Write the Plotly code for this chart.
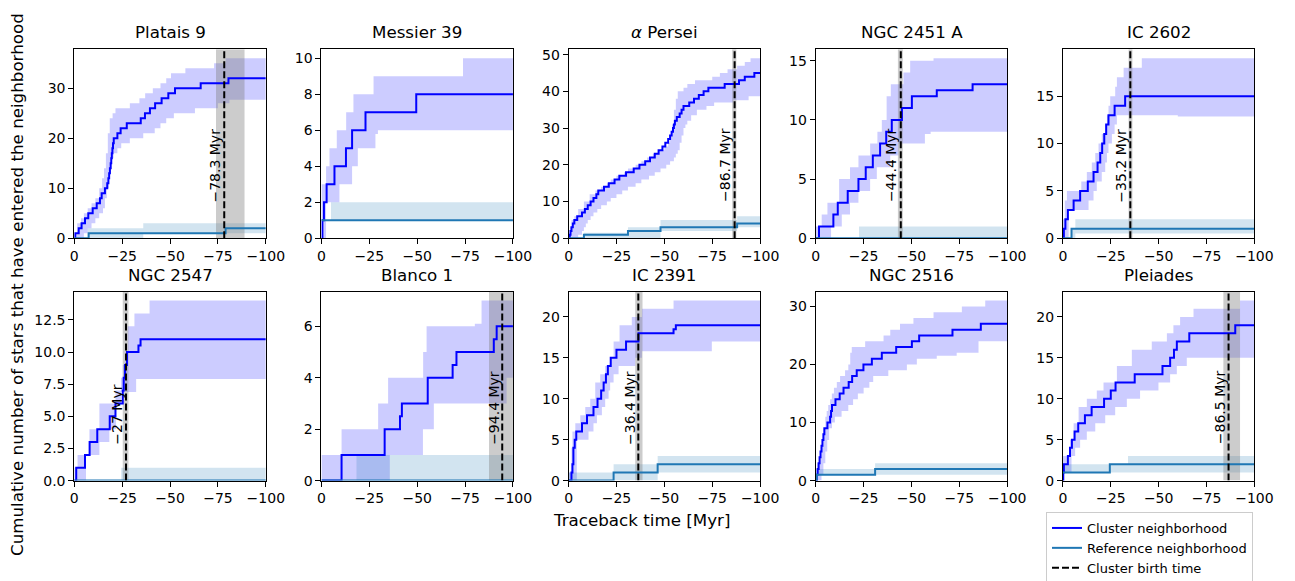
import plotly.graph_objects as go

# ---------------- data (traceback time in Myr as positive magnitude, value = count after step) ----------------
NAMES = ["Platais 9", "Messier 39", "<i>α</i> Persei", "NGC 2451 A", "IC 2602",
         "NGC 2547", "Blanco 1", "IC 2391", "NGC 2516", "Pleiades"]

P9_LINE = [(0, 0), (0.5, 1), (2.3, 2), (3.8, 3), (5.6, 4), (7.3, 5), (9.6, 6), (11.7, 7), (13.4, 8), (14.3, 9),
           (16, 10), (17.2, 11), (17.8, 12), (18.2, 13), (18.6, 14), (19, 15), (19.3, 16), (19.6, 17), (19.9, 18),
           (20.2, 19), (20.6, 20), (22.5, 21), (24.2, 22), (27.4, 23), (34.7, 24), (36.9, 25), (39.5, 26),
           (42.2, 27), (45.6, 28), (49.1, 29), (52.6, 30), (66, 31), (80.5, 32)]
P9_UP = [(0, 1), (1.5, 3), (3.5, 4), (5, 5), (7, 6), (9, 7), (11, 8), (13, 10), (14.5, 12), (15.5, 14), (16.5, 17),
         (17.5, 21), (18.5, 24), (20, 25), (21.5, 26), (29, 27), (34, 28), (37, 29), (41, 30), (45, 31), (48, 32),
         (50.5, 33), (58, 34), (73, 35), (79, 36)]
P9_LO = [(0, 0), (5, 1), (7, 2), (9, 3), (11, 4), (13, 5), (15, 6), (16, 8), (17, 10), (18, 13), (19, 16),
         (20.5, 17), (22.5, 18), (24.5, 19), (29, 20), (36, 21), (42, 22), (45, 23), (48, 24), (52, 25), (63, 26),
         (75, 27), (81, 27.7)]
P9_REF = [(0, 0), (7.5, 1), (79, 2)]
P9_REF_UP = [(0, 0), (7, 2), (36, 3)]
P9_REF_LO = [(0, 0), (36, 1)]

M39_LINE = [(0, 0), (0.5, 1), (1.3, 2), (2.7, 3), (6.8, 4), (12.8, 5), (16, 6), (23, 7), (49.5, 8)]
M39_UP = [(0, 3), (2.4, 4), (4.2, 5), (8, 6), (12.9, 7), (16.7, 8), (27.2, 9), (73.9, 10)]
M39_LO = [(0, 0), (2.4, 2), (9.4, 3), (16, 4), (19, 5), (28.2, 5.8), (29.5, 6)]
M39_REF = [(0, 1)]
M39_REF_UP = [(0, 1), (5, 2)]
M39_REF_LO = [(0, 1)]

AP_LINE = [(0, 0), (0.6, 1), (1.0, 2), (1.5, 3), (2.2, 4), (3.0, 5), (4.5, 6), (7.0, 7), (8.5, 8), (10.0, 9),
           (11.5, 10), (13.0, 11), (14.5, 12), (15.5, 13), (18.5, 14), (21.0, 15), (24.0, 16), (26.5, 17),
           (30.0, 18), (34.0, 19), (37.0, 20), (40.0, 21), (42.5, 22), (45.0, 23), (47.0, 24), (49.0, 25),
           (50.5, 26), (52.0, 27), (53.0, 28), (53.8, 29), (54.5, 30), (55.0, 31), (55.5, 32), (56.5, 33),
           (58.0, 34), (59.0, 35), (60.0, 36), (63.0, 37), (65.5, 38), (68.0, 39), (70.5, 40), (73.0, 41),
           (81.5, 42), (89.0, 43), (92.0, 44), (97.0, 45)]
AP_UP = [(0, 1), (0.8, 3), (1.5, 5), (3, 6), (5, 8), (8, 10), (11, 12), (14, 13), (17, 14), (20, 15), (22, 16),
         (25, 17), (29, 18), (31, 19), (35, 20), (38, 21), (41, 22), (44, 23), (47, 24), (50, 25), (52, 26),
         (53, 28), (54, 31), (55, 35), (56, 38), (57, 40), (60, 41), (62, 42), (66, 43), (75, 44), (79, 45),
         (83, 46), (88, 47), (92, 48), (95, 49)]
AP_LO = [(0, 0), (5, 1), (7, 2), (8, 3), (9, 4), (10, 5), (11.5, 6), (13, 7), (15, 8), (17, 9), (20, 10),
         (22, 11), (25, 12), (28, 13), (31, 14), (35, 15), (38, 16), (42, 17), (45, 18), (48, 19), (51, 20),
         (53, 21), (55, 22), (56, 23), (57, 24), (58, 26), (59, 28), (60, 30), (61, 31), (62, 32), (64, 33.5),
         (67, 35), (72, 36), (76, 37), (86, 37.6), (94, 38.7)]
AP_REF = [(0, 0), (8, 1), (31, 2), (48, 3), (88, 4)]
AP_REF_UP = [(0, 0), (8, 1.5), (31, 3), (48, 5), (88, 6)]
AP_REF_LO = [(0, 0), (48, 2), (88, 3)]

N2451_LINE = [(0, 0), (1.7, 1), (9.2, 2), (11.5, 3), (16.7, 4), (22.3, 5), (26.1, 6), (29.8, 7), (33.6, 8),
              (36.8, 9), (39.7, 10), (45, 11), (50.2, 12), (63.2, 12.5), (81.9, 13)]
N2451_UP = [(0, 1), (3.1, 2), (6.1, 3), (12.2, 5), (17.9, 6), (22.3, 7), (28.4, 8), (32.2, 9), (34.5, 10),
            (37, 12), (39.2, 13), (45.8, 14), (49.3, 15), (61.5, 15.2)]
N2451_LO = [(0, 0), (8, 1), (13.6, 2), (17.9, 3), (22.3, 4), (28.4, 5), (31.9, 6), (38.9, 7), (43.2, 8),
            (57, 8.8), (60, 9)]
N2451_REF = [(0, 0)]
N2451_REF_UP = [(0, 0), (22.6, 1)]
N2451_REF_LO = [(0, 0)]

I2602_LINE = [(0, 0), (0.5, 1), (1.3, 2), (2.6, 3), (5.6, 4), (9, 5), (13, 6), (16, 7), (18.1, 8), (19.5, 9),
              (20.5, 10), (21.6, 11), (22.6, 12), (23.8, 13), (27, 14), (32.5, 15)]
I2602_UP = [(0, 2), (1, 4), (2.1, 5), (9.6, 6), (12.5, 7), (15.1, 8), (16.9, 9), (18.6, 10), (20.3, 11),
            (22.1, 12), (23, 13), (23.8, 14), (24.7, 15), (27.3, 16), (28.2, 17), (31.7, 18), (41.2, 19)]
I2602_LO = [(0, 0), (3, 3), (13.4, 4), (16, 5), (17.7, 6), (20.3, 7), (22.1, 8), (23, 9), (23.8, 10),
            (25.6, 11), (27, 12), (28.2, 13), (60, 12.85)]
I2602_REF = [(0, 0), (4.5, 1)]
I2602_REF_UP = [(0, 0), (4.5, 1), (6.5, 2)]
I2602_REF_LO = [(0, 0), (6.5, 0.5)]

N2547_LINE = [(0, 0), (1, 1), (5.6, 2), (8, 3), (12, 4), (18.5, 5), (21.5, 6), (25.3, 7), (25.8, 8), (26.5, 9),
              (27.5, 10), (33.5, 10.5), (34.6, 11)]
N2547_UP = [(0, 1), (1.7, 2), (7.9, 4), (13.1, 6), (21.5, 7), (24.4, 8), (25.3, 9), (27.9, 12), (31.4, 13),
            (39.3, 14)]
N2547_LO = [(0, 0), (6.1, 2), (13.1, 3), (18.3, 4), (21.8, 6), (24.4, 6.9), (32.3, 7.9)]
N2547_REF = [(0, 0)]
N2547_REF_UP = [(0, 0), (24.5, 1)]
N2547_REF_LO = [(0, 0)]

B1_LINE = [(0, 0), (10.5, 1), (33, 2), (41, 2.5), (42, 3), (55.5, 4), (68.5, 4.5), (70.5, 5), (90, 5.5),
           (91.5, 6)]
B1_UP = [(0, 1), (10.5, 2), (29.6, 3), (34.8, 4), (53.1, 5), (54.9, 6), (80.1, 6.1), (83.6, 7)]
B1_LO = [(0, 0), (35.7, 1), (53, 2), (58.7, 3), (96.7, 4)]
B1_REF = [(0, 0)]
B1_REF_UP = [(0, 0), (18.3, 1)]
B1_REF_LO = [(0, 0)]

I2391_LINE = [(0, 0), (1.5, 1), (2, 2), (2.5, 4), (3.2, 5), (4, 6), (7, 7), (9.6, 8), (13, 9), (15.1, 10),
              (17, 11), (18.3, 12), (19.5, 13), (20.5, 14), (22, 15), (25, 16), (30, 17), (36.5, 18),
              (54.8, 18.5), (56, 19)]
I2391_UP = [(0, 1), (1.5, 4), (2, 6), (3.5, 7), (6.1, 8), (8.7, 9), (11.3, 10), (13.9, 12), (16.5, 13),
            (19.1, 14), (21.7, 15), (23.5, 17), (26.6, 19), (33, 20), (38.3, 21), (54.8, 22)]
I2391_LO = [(0, 0), (4.3, 5), (10.4, 6), (13, 7), (14.8, 8), (17.4, 9), (19.1, 10), (20.9, 11), (21.7, 12),
            (23.5, 13), (26.1, 14), (34.8, 15), (38.3, 15.8), (74.8, 17)]
I2391_REF = [(0, 0), (23.5, 1), (46.5, 2)]
I2391_REF_UP = [(0, 1), (23.5, 2), (46.5, 3)]
I2391_REF_LO = [(0, 0), (46.5, 1)]

N2516_LINE = [(0, 0), (0.5, 1), (1, 2), (1.5, 3), (2, 4), (2.5, 5), (3, 6), (3.5, 7), (4, 8), (4.5, 9),
              (6.1, 10), (7.5, 11), (8, 12), (8.5, 13), (10.3, 14), (12.5, 15), (14.5, 16), (17.2, 17),
              (19, 18), (21.4, 19), (24.9, 20), (29.3, 21), (34.5, 22), (42, 23), (50.2, 24), (54, 25),
              (71.4, 26), (86.2, 27)]
N2516_UP = [(0, 1), (0.8, 3), (2.3, 4), (3, 6), (4, 9), (5, 11), (5.7, 12), (6.5, 13), (7.5, 14), (8.4, 15),
            (9.5, 16), (11, 17), (12.7, 18), (15.3, 19), (17, 20), (18, 22), (18.8, 23), (25.8, 24), (35.4, 25),
            (38.9, 26), (44, 27), (51, 28), (61.5, 29), (76.3, 30), (88.5, 31)]
N2516_LO = [(0, 0), (3, 1), (4, 3), (5, 5), (6, 7), (7, 9), (8.5, 10), (10, 11), (13.5, 12), (17, 13),
            (19.5, 14), (22, 15), (25, 16), (28, 17), (30, 18), (37.9, 19), (47.6, 20), (52.8, 21),
            (63.2, 21.5), (73.6, 22), (85, 24)]
N2516_REF = [(0, 0), (0.5, 1), (31, 2)]
N2516_REF_UP = [(0, 2), (31, 3)]
N2516_REF_LO = [(0, 1)]

PL_LINE = [(0, 0), (0.2, 1), (0.5, 2), (2.6, 3), (3.7, 4), (4.7, 5), (6.1, 6), (8, 7), (11.5, 8), (15, 9),
           (21.5, 10), (25, 11), (27.5, 12), (37.5, 13), (52, 14), (56, 15), (58, 16), (59.5, 17), (66, 18),
           (90, 19)]
PL_UP = [(0, 3), (3.8, 5), (5.6, 7), (8.2, 9), (12.5, 10), (17.7, 11), (21.2, 12), (28.2, 14), (36, 16),
         (46.4, 17), (54.3, 18), (57.7, 19), (61.2, 20), (68.2, 21), (92.5, 22)]
PL_LO = [(0, 1), (4.5, 3), (6.4, 4), (9, 5), (12.5, 6), (16.9, 7), (22.1, 8), (27.3, 9), (33.4, 10),
         (40.3, 11), (49.9, 12), (56, 13), (59.5, 14), (64.7, 15)]
PL_REF = [(0, 1), (24.5, 2)]
PL_REF_UP = [(0, 2), (34, 3)]
PL_REF_LO = [(0, 1)]

BIRTH = [78.3, None, 86.7, 44.4, 35.2, 27.0, 94.4, 36.4, None, 86.5]
BIRTH_LO = [74.0, None, 85.4, 42.9, 34.3, 25.3, 87.5, 34.8, None, 83.8]
BIRTH_HI = [88.9, None, 87.6, 45.5, 36.3, 28.3, 101.3, 38.6, None, 92.5]

Y_TICK_STEP = [10, 2, 10, 5, 5, 2.5, 2, 5, 10, 5]
X_TICKS = [0, -25, -50, -75, -100]
X_TICK_TEXT = ["0", "−25", "−50", "−75", "−100"]
T_MAX = 100

PANELS = [
    (P9_LINE, P9_UP, P9_LO, P9_REF, P9_REF_UP, P9_REF_LO),
    (M39_LINE, M39_UP, M39_LO, M39_REF, M39_REF_UP, M39_REF_LO),
    (AP_LINE, AP_UP, AP_LO, AP_REF, AP_REF_UP, AP_REF_LO),
    (N2451_LINE, N2451_UP, N2451_LO, N2451_REF, N2451_REF_UP, N2451_REF_LO),
    (I2602_LINE, I2602_UP, I2602_LO, I2602_REF, I2602_REF_UP, I2602_REF_LO),
    (N2547_LINE, N2547_UP, N2547_LO, N2547_REF, N2547_REF_UP, N2547_REF_LO),
    (B1_LINE, B1_UP, B1_LO, B1_REF, B1_REF_UP, B1_REF_LO),
    (I2391_LINE, I2391_UP, I2391_LO, I2391_REF, I2391_REF_UP, I2391_REF_LO),
    (N2516_LINE, N2516_UP, N2516_LO, N2516_REF, N2516_REF_UP, N2516_REF_LO),
    (PL_LINE, PL_UP, PL_LO, PL_REF, PL_REF_UP, PL_REF_LO),
]

# ---------------- styling / geometry ----------------
W, H = 1295, 581
FONT = "DejaVu Sans"
COL_LEFT0, COL_STEP, PANEL_W = 74.3, 247.15, 191.5
ROW_TOP = [49.3, 291.6]
PANEL_H = 189.0
CL_COLOR = "#0000ff"
CL_FILL = "rgba(0,0,255,0.2)"
REF_COLOR = "#1f77b4"
REF_FILL = "rgba(31,119,180,0.2)"
SPAN_FILL = "rgba(128,128,128,0.4)"


def steps(pairs):
    t = [p[0] for p in pairs] + [T_MAX]
    n = [p[1] for p in pairs] + [pairs[-1][1]]
    return [-v for v in t], n


fig = go.Figure()
layout = dict(
    width=W, height=H, margin=dict(l=0, r=0, t=0, b=0, autoexpand=False),
    paper_bgcolor="white", plot_bgcolor="white",
    font=dict(family=FONT, size=14, color="black"),
    showlegend=True,
)
annotations = []

for k, (line, up, lo, ref, rup, rlo) in enumerate(PANELS):
    r, c = divmod(k, 5)
    s = "" if k == 0 else str(k + 1)
    xa, ya = "x" + s, "y" + s
    left = COL_LEFT0 + COL_STEP * c
    top = ROW_TOP[r]
    ymax = 1.05 * max(p[1] for p in up)

    common = dict(xaxis=xa, yaxis=ya, hoverinfo="skip")
    # cluster band
    x, y = steps(lo)
    fig.add_trace(go.Scatter(x=x, y=y, mode="lines", line=dict(width=0, shape="hv"), showlegend=False, **common))
    x, y = steps(up)
    fig.add_trace(go.Scatter(x=x, y=y, mode="lines", line=dict(width=0, shape="hv"), fill="tonexty",
                             fillcolor=CL_FILL, showlegend=False, **common))
    # reference band
    x, y = steps(rlo)
    fig.add_trace(go.Scatter(x=x, y=y, mode="lines", line=dict(width=0, shape="hv"), showlegend=False, **common))
    x, y = steps(rup)
    fig.add_trace(go.Scatter(x=x, y=y, mode="lines", line=dict(width=0, shape="hv"), fill="tonexty",
                             fillcolor=REF_FILL, showlegend=False, **common))
    # birth uncertainty span
    if BIRTH[k] is not None:
        b0, b1 = -BIRTH_LO[k], -BIRTH_HI[k]
        fig.add_trace(go.Scatter(x=[b0, b1, b1, b0, b0], y=[0, 0, ymax, ymax, 0], mode="lines",
                                 line=dict(width=0), fill="toself", fillcolor=SPAN_FILL,
                                 showlegend=False, **common))
    # lines
    x, y = steps(line)
    fig.add_trace(go.Scatter(x=x, y=y, mode="lines", line=dict(color=CL_COLOR, width=2, shape="hv"),
                             name="Cluster neighborhood", showlegend=(k == 0), legendrank=1, **common))
    x, y = steps(ref)
    fig.add_trace(go.Scatter(x=x, y=y, mode="lines", line=dict(color=REF_COLOR, width=2, shape="hv"),
                             name="Reference neighborhood", showlegend=(k == 0), legendrank=2, **common))
    if BIRTH[k] is not None:
        fig.add_trace(go.Scatter(x=[-BIRTH[k], -BIRTH[k]], y=[0, ymax], mode="lines",
                                 line=dict(color="black", width=2, dash="7px,3px"),
                                 name="Cluster birth time", showlegend=(k == 0), legendrank=3, **common))
        annotations.append(dict(
            x=-BIRTH[k], xref=xa, y=0.185, yref=ya + " domain", text=f"−{BIRTH[k]:g} Myr",
            textangle=-90, xanchor="right", yanchor="bottom", showarrow=False,
            font=dict(family=FONT, size=14, color="black"), borderpad=0))

    axis_common = dict(showline=True, mirror=True, linecolor="black", linewidth=1, ticks="outside",
                       ticklen=5, tickwidth=1, tickcolor="black", showgrid=False, zeroline=False,
                       tickfont=dict(family=FONT, size=14, color="black"), fixedrange=True)
    layout["xaxis" + s] = dict(domain=[left / W, (left + PANEL_W) / W], anchor=ya, range=[0, -T_MAX],
                               tickvals=X_TICKS, ticktext=X_TICK_TEXT, **axis_common)
    ystep = Y_TICK_STEP[k]
    layout["yaxis" + s] = dict(domain=[(H - top - PANEL_H) / H, (H - top) / H], anchor=xa, range=[0, ymax],
                               tick0=0, dtick=ystep, tickformat=".1f" if ystep % 1 else "d", **axis_common)
    annotations.append(dict(x=0.5, xref=xa + " domain", y=1, yref=ya + " domain", text=NAMES[k],
                            xanchor="center", yanchor="bottom", yshift=5, showarrow=False,
                            font=dict(family=FONT, size=16.7, color="black")))

annotations.append(dict(x=641 / W, xref="paper", y=1 - 520 / H, yref="paper", text="Traceback time [Myr]",
                        xanchor="center", yanchor="middle", showarrow=False,
                        font=dict(family=FONT, size=16.7, color="black")))
annotations.append(dict(x=17 / W, xref="paper", y=1 - 285 / H, yref="paper",
                        text="Cumulative number of stars that have entered the neighborhood",
                        textangle=-90, xanchor="center", yanchor="middle", showarrow=False,
                        font=dict(family=FONT, size=16.7, color="black")))

layout["annotations"] = annotations
layout["legend"] = dict(x=1046 / W, y=1 - 512 / H, xanchor="left", yanchor="top", bgcolor="white",
                        bordercolor="#cccccc", borderwidth=1, font=dict(family=FONT, size=13, color="black"),
                        tracegroupgap=0, itemwidth=30, traceorder="normal")
fig.update_layout(**layout)
fig.write_html("out.html")
